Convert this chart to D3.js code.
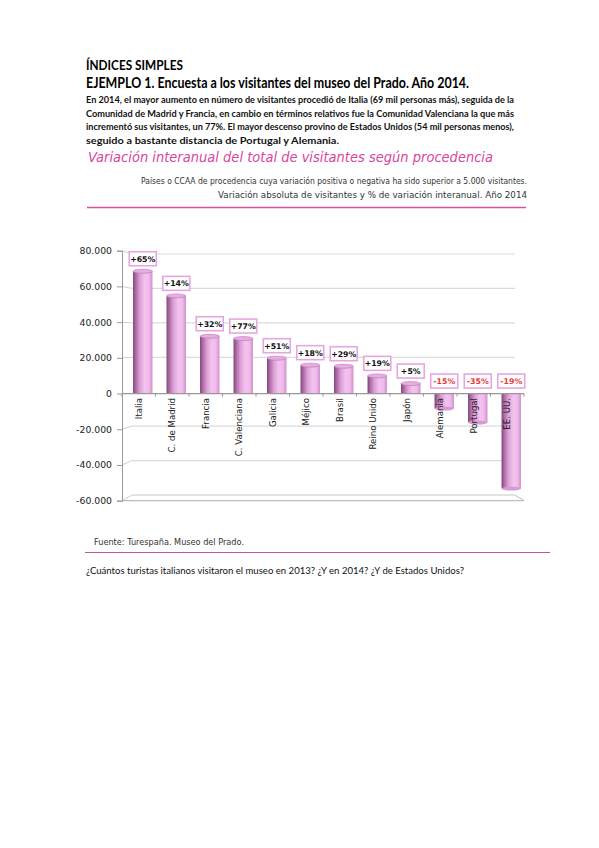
<!DOCTYPE html>
<html><head><meta charset="utf-8">
<script src="https://cdn.jsdelivr.net/npm/d3@7/dist/d3.min.js"></script>
<style>html,body{margin:0;padding:0;background:#fff;}svg{display:block;}</style>
</head><body>
<script>
const categories = ["Italia","C. de Madrid","Francia","C. Valenciana","Galicia","Méjico","Brasil","Reino Unido","Japón","Alemania","Portugal","EE. UU."];
const values = [68500, 54700, 32100, 30800, 19800, 15900, 15300, 9900, 5600, -8400, -16200, -53200];
const pctLabels = ["+65%","+14%","+32%","+77%","+51%","+18%","+29%","+19%","+5%","-15%","-35%","-19%"];
const yTicks = [-60000,-40000,-20000,0,20000,40000,60000,80000];

const heading1 = "ÍNDICES SIMPLES";
const heading2 = "EJEMPLO 1. Encuesta a los visitantes del museo del Prado. Año 2014.";
const bodyLines = [
  "En 2014, el mayor aumento en número de visitantes procedió de Italia (69 mil personas más), seguida de la",
  "Comunidad de Madrid y Francia, en cambio en términos relativos fue la Comunidad Valenciana la que más",
  "incrementó sus visitantes, un 77%. El mayor descenso provino de Estados Unidos (54 mil personas menos),",
  "seguido a bastante distancia de Portugal y Alemania."
];
const chartTitle = "Variación interanual del total de visitantes según procedencia";
const subtitle1 = "Países o CCAA de procedencia cuya variación positiva o negativa ha sido superior a 5.000 visitantes.";
const subtitle2 = "Variación absoluta de visitantes y % de variación interanual.  Año 2014";
const sourceText = "Fuente: Turespaña. Museo del Prado.";
const question = "¿Cuántos turistas italianos visitaron el museo en 2013? ¿Y en 2014? ¿Y de Estados Unidos?";

const W = 599, H = 848;
const svg = d3.select("body").append("svg").attr("width", W).attr("height", H);
svg.append("rect").attr("width", W).attr("height", H).attr("fill", "#fff");

const textFont = "Lato, 'Open Sans', sans-serif";

// Header texts
svg.append("text").attr("x", 86).attr("y", 70).attr("font-family", textFont).attr("font-weight", "bold")
  .attr("font-size", 12.5).attr("fill", "#000").attr("textLength", 97).attr("lengthAdjust", "spacingAndGlyphs").text(heading1);
svg.append("text").attr("x", 86).attr("y", 88).attr("font-family", textFont).attr("font-weight", "bold")
  .attr("font-size", 14.5).attr("fill", "#000").attr("textLength", 383).attr("lengthAdjust", "spacingAndGlyphs").text(heading2);
const bodyLens = [428, 428, 428, 253];
bodyLines.forEach((l, i) => {
  svg.append("text").attr("x", 86).attr("y", 103 + i * 13.7).attr("font-family", textFont).attr("font-weight", "bold")
    .attr("font-size", 10).attr("fill", "#111").attr("textLength", bodyLens[i]).attr("lengthAdjust", "spacingAndGlyphs").text(l);
});

// Chart title & subtitles
svg.append("text").attr("x", 88).attr("y", 162).attr("font-family", "DejaVu Sans, Verdana, sans-serif").attr("font-style", "italic")
  .attr("font-size", 14).attr("fill", "#d9459f").attr("textLength", 405).attr("lengthAdjust", "spacingAndGlyphs").text(chartTitle);
svg.append("text").attr("x", 141).attr("y", 184).attr("font-family", "DejaVu Sans, sans-serif")
  .attr("font-size", 8.6).attr("fill", "#333").attr("textLength", 386).attr("lengthAdjust", "spacingAndGlyphs").text(subtitle1);
svg.append("text").attr("x", 218).attr("y", 198).attr("font-family", "DejaVu Sans, sans-serif")
  .attr("font-size", 8.6).attr("fill", "#333").attr("textLength", 309).attr("lengthAdjust", "spacingAndGlyphs").text(subtitle2);
svg.append("line").attr("x1", 87).attr("x2", 526).attr("y1", 207.5).attr("y2", 207.5).attr("stroke", "#d9509f").attr("stroke-width", 1.5);

// Scales
const yFront = d3.scaleLinear().domain([-60000, 80000]).range([500.7, 250.7]);
const yBack = d3.scaleLinear().domain([-60000, 80000]).range([495, 254]);
const x = d3.scaleBand().domain(categories).range([122, 524]).paddingInner(0.42).paddingOuter(0.21);
const backL = 132, backR = 515;
const frontL = 122, frontR = 524;

const loc = d3.formatLocale({decimal: ",", thousands: ".", grouping: [3], currency: ["", "€"], minus: "-"});
const fmt = loc.format(",");

// Gridlines on back wall with 3D side diagonals
const g = svg.append("g");
yTicks.forEach(t => {
  if (t === 0) return;
  g.append("line").attr("x1", frontL).attr("y1", yFront(t)).attr("x2", backL).attr("y2", yBack(t))
    .attr("stroke", "#cfcfcf").attr("stroke-width", 1);
  g.append("line").attr("x1", backL).attr("y1", yBack(t)).attr("x2", backR).attr("y2", yBack(t))
    .attr("stroke", t === -60000 ? "#c8c8c8" : "#dcdcdc").attr("stroke-width", 1.2);
});
// floor
g.append("line").attr("x1", frontL).attr("x2", frontR).attr("y1", yFront(-60000)).attr("y2", yFront(-60000)).attr("stroke", "#bdbdbd").attr("stroke-width", 1.2);
g.append("line").attr("x1", backR).attr("y1", yBack(-60000)).attr("x2", frontR).attr("y2", yFront(-60000)).attr("stroke", "#bdbdbd").attr("stroke-width", 1);

// Y axis
const yAxis = d3.axisLeft(yFront).tickValues(yTicks).tickFormat(fmt).tickSize(5).tickPadding(5);
const ya = svg.append("g").attr("transform", `translate(${frontL},0)`).call(yAxis);
ya.select(".domain").attr("stroke", "#999");
ya.selectAll(".tick line").attr("stroke", "#999");
ya.selectAll(".tick text").attr("font-family", "DejaVu Sans, Verdana, sans-serif").attr("font-size", 9.3).attr("fill", "#222");

// Bar gradient
const defs = svg.append("defs");
const grad = defs.append("linearGradient").attr("id", "barGrad").attr("x1", "0%").attr("x2", "100%").attr("y1", "0%").attr("y2", "0%");
[["0%", "#7e4377"], ["12%", "#a866a0"], ["35%", "#dc9fd6"], ["60%", "#f3c3ef"], ["82%", "#f0baec"], ["100%", "#cf8fc9"]]
  .forEach(([o, c]) => grad.append("stop").attr("offset", o).attr("stop-color", c));

const barOff = 4;
const bw = x.bandwidth();
const bars = svg.append("g");
categories.forEach((c, i) => {
  const v = values[i];
  const bx = x(c) + barOff;
  const y0 = yFront(0), y1 = yFront(v);
  const top = Math.min(y0, y1), h = Math.abs(y1 - y0);
  bars.append("rect").attr("x", bx).attr("y", top).attr("width", bw).attr("height", h).attr("fill", "url(#barGrad)");
  if (v > 0) {
    bars.append("ellipse").attr("cx", bx + bw / 2).attr("cy", y1).attr("rx", bw / 2).attr("ry", 2)
      .attr("fill", "#e8aee3").attr("stroke", "#b575ad").attr("stroke-width", 0.6);
  } else {
    bars.append("ellipse").attr("cx", bx + bw / 2).attr("cy", y1).attr("rx", bw / 2).attr("ry", 2)
      .attr("fill", "#d89ad2");
  }
});

// Zero axis line with category ticks
svg.append("line").attr("x1", frontL).attr("x2", frontR).attr("y1", yFront(0)).attr("y2", yFront(0)).attr("stroke", "#999").attr("stroke-width", 1.2);
const bounds = categories.map(c => x(c) - x.step() * x.paddingInner() / 2).concat([frontR]);
bounds.forEach(b => {
  svg.append("line").attr("x1", b).attr("x2", b).attr("y1", yFront(0)).attr("y2", yFront(0) + 3).attr("stroke", "#999");
});

// Category labels
categories.forEach((c, i) => {
  const cx = x(c) + bw / 2 + 3;
  svg.append("text").attr("transform", `translate(${cx},398) rotate(-90)`).attr("text-anchor", "end")
    .attr("font-family", "DejaVu Sans, Verdana, sans-serif").attr("font-size", 8.6).attr("fill", "#222").text(c);
});

// Percentage labels
categories.forEach((c, i) => {
  const v = values[i];
  const cx = x(c) + barOff + bw / 2;
  const bottom = yFront(Math.max(v, 0)) - 5.5;
  const bwid = 27, bh = 14;
  svg.append("rect").attr("x", cx - bwid / 2).attr("y", bottom - bh).attr("width", bwid).attr("height", bh)
    .attr("fill", "#fff").attr("stroke", "#e7a6e2").attr("stroke-width", 1.6);
  svg.append("text").attr("x", cx).attr("y", bottom - 4).attr("text-anchor", "middle")
    .attr("font-family", "DejaVu Sans, Verdana, sans-serif").attr("font-weight", "bold").attr("font-size", 7.8)
    .attr("fill", v < 0 ? "#e8383a" : "#111").text(pctLabels[i]);
});

// Source and bottom rule
svg.append("text").attr("x", 94).attr("y", 545).attr("font-family", "DejaVu Sans, Tahoma, sans-serif").attr("font-size", 8.3)
  .attr("fill", "#333").attr("textLength", 150).attr("lengthAdjust", "spacingAndGlyphs").text(sourceText);
svg.append("line").attr("x1", 85).attr("x2", 550).attr("y1", 552.5).attr("y2", 552.5).attr("stroke", "#c2569a").attr("stroke-width", 1.2);

// Question
svg.append("text").attr("x", 86).attr("y", 574).attr("font-family", textFont).attr("font-size", 10)
  .attr("fill", "#111").attr("textLength", 378).attr("lengthAdjust", "spacingAndGlyphs").text(question);
</script>
</body></html>
